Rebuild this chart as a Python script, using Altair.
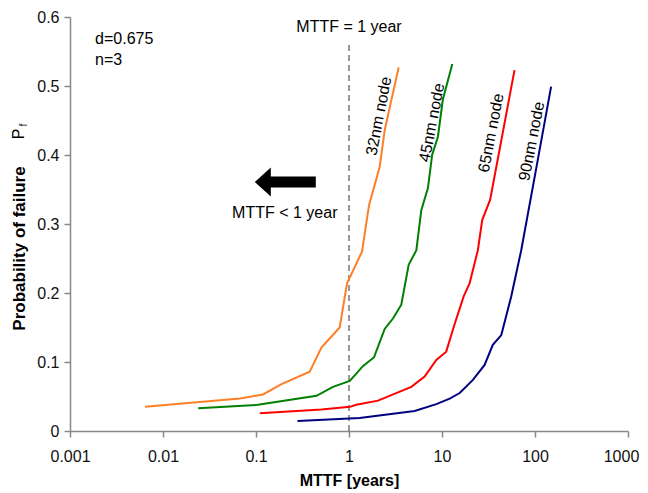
import altair as alt
import pandas as pd

FONT = "Liberation Sans"

# ---- data ----
series_names = ["32nm node", "45nm node", "65nm node", "90nm node"]
series_colors = ["#FF7F27", "#008000", "#FF0000", "#000080"]

x32 = [0.0064, 0.067, 0.119, 0.188, 0.378, 0.505, 0.794, 0.953, 1.38, 1.64, 2.14, 2.42, 3.42]
y32 = [0.035, 0.047, 0.053, 0.068, 0.086, 0.121, 0.150, 0.214, 0.260, 0.327, 0.383, 0.436, 0.527]

x45 = [0.0239, 0.105, 0.447, 0.673, 1.02, 1.41, 1.86, 2.42, 2.97, 3.65, 4.38, 5.3, 5.99, 7.06, 7.83, 9.04, 10.2, 12.9]
y45 = [0.033, 0.038, 0.051, 0.064, 0.0725, 0.094, 0.107, 0.148, 0.163, 0.183, 0.241, 0.262, 0.320, 0.352, 0.400, 0.4265, 0.48, 0.532]

x65 = [0.110, 0.505, 1.02, 1.20, 2.05, 4.68, 6.5, 8.69, 11.1, 13.6, 17.1, 19.8, 24.3, 27.1, 32.9, 60.2]
y65 = [0.0257, 0.031, 0.035, 0.038, 0.044, 0.064, 0.079, 0.103, 0.115, 0.154, 0.195, 0.214, 0.262, 0.306, 0.335, 0.523]

x90 = [0.279, 1.30, 5.08, 8.69, 12.1, 15.5, 21.5, 28.7, 35.2, 43.4, 55.5, 71.1, 101, 149]
y90 = [0.0145, 0.019, 0.029, 0.039, 0.047, 0.055, 0.074, 0.0957, 0.125, 0.139, 0.195, 0.262, 0.374, 0.499]

x_ticks = [0.001, 0.01, 0.1, 1, 10, 100, 1000]
y_ticks = [0, 0.1, 0.2, 0.3, 0.4, 0.5, 0.6]

# label anchors for the rotated series names
label_x = [2.1, 7.8, 33.8, 92.5]
label_y = [0.4565, 0.447, 0.432, 0.420]

# annotations
param_text = ["d=0.675", "n=3"]
param_x = [0.00186, 0.00186]
param_y = [0.568, 0.538]

mttf_line_x = 1
mttf_line_top = 0.561
mttf_title = "MTTF = 1 year"
mttf_title_y = 0.5855
arrow_text = "MTTF < 1 year"
arrow_text_x = 0.204
arrow_text_y = 0.316
arrow_x = 0.2066
arrow_y = 0.361

# ---- tables ----
rows = []
for name, xs, ys in zip(series_names, [x32, x45, x65, x90], [y32, y45, y65, y90]):
    for i, (a, b) in enumerate(zip(xs, ys)):
        rows.append({"node": name, "mttf": a, "pf": b, "order": i})
df = pd.DataFrame(rows)

labels_df = pd.DataFrame({"node": series_names, "mttf": label_x, "pf": label_y})
params_df = pd.DataFrame({"txt": param_text, "mttf": param_x, "pf": param_y})
vline_df = pd.DataFrame({"mttf": [mttf_line_x], "pf": [0.0], "pf2": [mttf_line_top]})
top_df = pd.DataFrame({"txt": [mttf_title], "mttf": [mttf_line_x], "pf": [mttf_title_y]})
arrow_txt_df = pd.DataFrame({"txt": [arrow_text], "mttf": [arrow_text_x], "pf": [arrow_text_y]})
arrow_df = pd.DataFrame({"mttf": [arrow_x], "pf": [arrow_y]})

xscale = alt.Scale(type="log", domain=[0.001, 1000], nice=False)
yscale = alt.Scale(domain=[0, 0.6], nice=False, zero=True)

X = alt.X(
    "mttf:Q",
    scale=xscale,
    axis=alt.Axis(
        title="MTTF [years]",
        values=x_ticks,
        format="~g",
        grid=False,
        tickSize=6,
        labelPadding=11,
        labelFlush=False,
        labelOverlap=False,
        labelOffset={"expr": "datum.value >= 1000 ? -7 : 0"},
        titleFontSize=16,
        titleFontWeight="bold",
        titleFont=FONT,
        titleColor="#000000",
        titleX=279,
        titleY=49,
        titleBaseline="middle",
        titleAlign="center",
    ),
)
Y = alt.Y(
    "pf:Q",
    scale=yscale,
    axis=alt.Axis(
        title="Probability of failure",
        values=y_ticks,
        format="~g",
        grid=False,
        tickSize=6,
        labelPadding=5,
        labelFlush=False,
        labelOverlap=False,
        titleFontSize=17,
        titleFontWeight="bold",
        titleFont=FONT,
        titleColor="#000000",
        titleAngle=270,
        titleX=-51,
        titleY=231,
        titleAlign="center",
        titleBaseline="middle",
    ),
)

color = alt.Color("node:N", scale=alt.Scale(domain=series_names, range=series_colors), legend=None)

lines = alt.Chart(df).mark_line(strokeWidth=2).encode(x=X, y=Y, color=color, order="order:Q")

labels = alt.Chart(labels_df).mark_text(
    font=FONT, fontSize=16, angle=281, align="center", baseline="middle", color="#000000"
).encode(x=X, y=Y, text="node:N")

params = alt.Chart(params_df).mark_text(
    font=FONT, fontSize=16, align="left", baseline="middle", color="#000000"
).encode(x=X, y=Y, text="txt:N")

vline = alt.Chart(vline_df).mark_rule(
    color="#333333", strokeWidth=1, strokeDash=[6, 4]
).encode(x=X, y=Y, y2="pf2:Q")

top_txt = alt.Chart(top_df).mark_text(
    font=FONT, fontSize=16, align="center", baseline="middle", color="#000000"
).encode(x=X, y=Y, text="txt:N")

arrow_txt = alt.Chart(arrow_txt_df).mark_text(
    font=FONT, fontSize=16, align="center", baseline="middle", color="#000000"
).encode(x=X, y=Y, text="txt:N")

arrow_path = "M-1,0L-0.475,-0.475L-0.475,-0.18L1,-0.18L1,0.18L-0.475,0.18L-0.475,0.475Z"
arrow = alt.Chart(arrow_df).mark_point(
    shape=arrow_path, filled=True, size=3721, color="#000000", opacity=1, strokeWidth=0
).encode(x=X, y=Y)

pf_df = pd.DataFrame({"t": ["P"]})
pf_main = alt.Chart(pf_df).mark_text(
    font=FONT, fontSize=16, angle=270, align="center", baseline="middle", color="#000000"
).encode(x=alt.value(-51), y=alt.value(117), text="t:N")
pf_sub_df = pd.DataFrame({"t": ["f"]})
pf_sub = alt.Chart(pf_sub_df).mark_text(
    font=FONT, fontSize=10, angle=270, align="center", baseline="middle", color="#000000"
).encode(x=alt.value(-46), y=alt.value(108), text="t:N")

chart = alt.layer(
    vline, lines, labels, params, top_txt, arrow_txt, arrow, pf_main, pf_sub
).properties(
    width=558,
    height=414,
    padding={"left": 62, "top": 9, "right": 12, "bottom": 60},
    autosize="none",
    background="#ffffff",
).configure_view(
    stroke=None
).configure_axis(
    domainColor="#888888",
    tickColor="#888888",
    labelColor="#111111",
    labelFont=FONT,
    labelFontSize=16,
    domainWidth=1.5,
    tickWidth=1.5,
)

chart.save("out.html", embed_options={"renderer": "svg", "actions": False})
